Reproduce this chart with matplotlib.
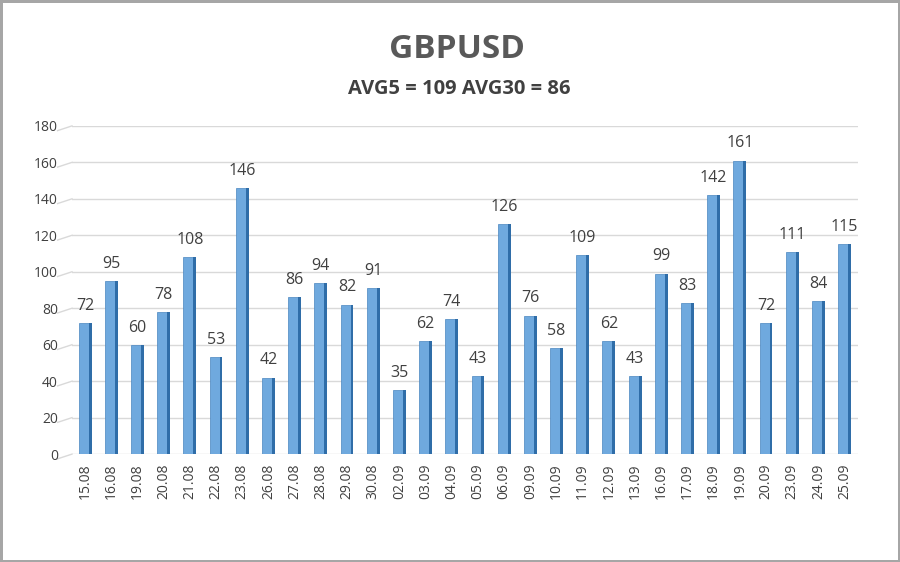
import matplotlib
matplotlib.use("Agg")
import matplotlib.pyplot as plt
import numpy as np

dates = [
    "15.08", "16.08", "19.08", "20.08", "21.08", "22.08", "23.08", "26.08",
    "27.08", "28.08", "29.08", "30.08", "02.09", "03.09", "04.09", "05.09",
    "06.09", "09.09", "10.09", "11.09", "12.09", "13.09", "16.09", "17.09",
    "18.09", "19.09", "20.09", "23.09", "24.09", "25.09",
]
values = [
    72, 95, 60, 78, 108, 53, 146, 42, 86, 94, 82, 91, 35, 62, 74, 43,
    126, 76, 58, 109, 62, 43, 99, 83, 142, 161, 72, 111, 84, 115,
]
yticks = [0, 20, 40, 60, 80, 100, 120, 140, 160, 180]

plt.rcParams["font.family"] = ["Open Sans", "DejaVu Sans"]
TEXT = "#404040"

fig = plt.figure(figsize=(9, 5.62), dpi=100)
fig.patch.set_facecolor("white")
fig.patch.set_edgecolor("#a6a6a6")
fig.patch.set_linewidth(2.5)

ax = fig.add_axes([0.080, 0.192, 0.873, 0.584])
x = np.arange(len(values))

# grid with a small 3D slant on the left side
for t in yticks:
    ax.axhline(t, color="#d9d9d9", lw=1, zorder=0)
    ax.plot([-1.05, -0.5], [t - 2.6, t], color="#d9d9d9", lw=1,
            clip_on=False, zorder=0)

face_w = 0.38
side_w = 0.11
ax.bar(x - side_w / 2, values, width=face_w, color="#6fa9de",
       edgecolor="#4a86c0", linewidth=0.5, zorder=2)
ax.bar(x + face_w / 2, values, width=side_w, color="#2f6da8",
       linewidth=0, zorder=2)

for xi, v in zip(x, values):
    ax.text(xi, v + 5, str(v), ha="center", va="bottom", fontsize=11.5,
            color=TEXT)

ax.set_xlim(-0.5, len(values) - 0.5)
ax.set_ylim(0, 180)
ax.set_yticks(yticks)
ax.set_yticklabels([str(t) for t in yticks], fontsize=10, color=TEXT)
ax.set_xticks(x)
ax.set_xticklabels(dates, rotation=90, fontsize=10, color=TEXT)
ax.tick_params(axis="both", length=0)
ax.tick_params(axis="y", pad=10)
ax.tick_params(axis="x", pad=7)
for s in ax.spines.values():
    s.set_visible(False)

fig.text(0.508, 0.912, "GBPUSD", ha="center", va="center", fontsize=24,
         fontweight="bold", color="#595959")
fig.text(0.510, 0.842, "AVG5 = 109 AVG30 = 86", ha="center", va="center",
         fontsize=14.5, fontweight="bold", color=TEXT)

fig.savefig("out.png", dpi=100, facecolor=fig.get_facecolor(),
            edgecolor=fig.get_edgecolor())
